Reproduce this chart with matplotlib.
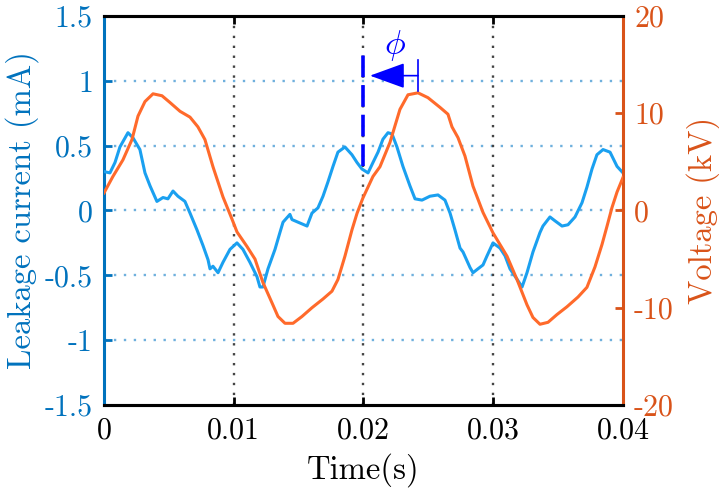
import numpy as np
import matplotlib
matplotlib.use("Agg")
import matplotlib.pyplot as plt

plt.rcParams['font.family'] = ['cmr10', 'DejaVu Serif']
plt.rcParams['mathtext.fontset'] = 'cm'
plt.rcParams['axes.unicode_minus'] = False

# leakage current (mA), time in ms
t_i = [0, 0.46, 0.85, 1.23, 1.85, 2.24, 2.77, 3.16, 3.55, 4.08, 4.55, 4.93, 5.32, 5.70, 6.24,
       6.63, 7.17, 7.63, 8.02, 8.17, 8.40, 8.79, 9.17, 9.71, 10.25, 10.71, 11.25, 11.79, 12.02,
       12.25, 12.64, 13.18, 13.56, 13.80, 14.33, 14.49, 14.95, 15.65, 16.03, 16.49, 16.88, 17.26,
       17.65, 18.03, 18.57, 19.11, 19.50, 19.88, 20.35, 20.73, 21.12, 21.50, 21.89, 22.20, 22.58,
       23.04, 23.58, 23.97, 24.51, 25.12, 25.74, 26.28, 26.67, 27.05, 27.44, 27.67, 28.21, 28.44,
       28.82, 29.21, 29.52, 29.98, 30.52, 30.91, 31.29, 31.83, 32.22, 32.60, 33.06, 33.60, 33.83,
       34.37, 34.76, 35.30, 35.76, 36.30, 36.84, 37.22, 37.61, 37.99, 38.46, 39.00, 39.54, 40.00]
current = [0.30, 0.29, 0.37, 0.49, 0.60, 0.56, 0.47, 0.29, 0.19, 0.07, 0.10, 0.09, 0.15, 0.11, 0.07,
           -0.02, -0.15, -0.27, -0.38, -0.45, -0.43, -0.48, -0.40, -0.30, -0.25, -0.30, -0.40, -0.51, -0.59,
           -0.59, -0.45, -0.30, -0.17, -0.09, -0.03, -0.07, -0.09, -0.12, -0.02, 0.02, 0.11, 0.22,
           0.34, 0.45, 0.49, 0.43, 0.37, 0.32, 0.29, 0.37, 0.45, 0.55, 0.60, 0.59, 0.49,
           0.34, 0.19, 0.09, 0.08, 0.11, 0.12, 0.08, -0.02, -0.15, -0.29, -0.32, -0.44, -0.48,
           -0.45, -0.42, -0.35, -0.25, -0.29, -0.35, -0.45, -0.53, -0.59, -0.48, -0.32, -0.17, -0.12,
           -0.05, -0.08, -0.12, -0.11, -0.05, 0.06, 0.18, 0.32, 0.43, 0.47, 0.45, 0.34, 0.29]

# voltage (kV), time in ms
t_v = [0, 0.69, 1.46, 2.16, 2.62, 3.16, 3.78, 4.47, 5.09, 5.86, 6.63, 7.24, 7.78, 8.40, 9.17,
       9.87, 10.25, 11.02, 11.64, 12.25, 12.95, 13.41, 13.95, 14.57, 15.26, 16.03, 16.88, 17.57,
       18.03, 18.57, 19.11, 19.50, 19.96, 20.73, 21.27, 22.04, 22.81, 23.43, 24.20, 24.97, 25.90,
       26.51, 26.82, 27.28, 27.82, 28.44, 29.21, 29.98, 31.06, 31.83, 32.60, 33.06, 33.60, 34.22,
       34.91, 35.68, 36.53, 37.22, 37.84, 38.38, 38.77, 39.15, 39.54, 40.00]
voltage = [1.8, 3.5, 5.2, 7.3, 9.7, 11.2, 12.0, 11.8, 11.1, 10.2, 9.6, 8.6, 7.3, 4.5, 1.4,
           -0.9, -2.2, -3.7, -5.0, -7.4, -9.5, -10.9, -11.6, -11.6, -10.9, -10.0, -9.1, -8.3,
           -7.1, -4.7, -2.0, -0.3, 1.3, 3.5, 4.5, 7.0, 10.4, 11.9, 12.1, 11.6, 10.6,
           9.9, 8.6, 7.5, 5.6, 2.5, -0.2, -2.3, -4.7, -7.1, -9.7, -11.0, -11.7, -11.5,
           -10.7, -9.9, -8.9, -7.9, -5.8, -3.5, -1.6, 0.3, 1.9, 3.4]

xticks = [0, 0.01, 0.02, 0.03, 0.04]
xlabels = ['0', '0.01', '0.02', '0.03', '0.04']
yticks_l = [-1.5, -1, -0.5, 0, 0.5, 1, 1.5]
ylabels_l = ['-1.5', '-1', '-0.5', '0', '0.5', '1', '1.5']
yticks_r = [-20, -10, 0, 10, 20]
ylabels_r = ['-20', '-10', '0', '10', '20']

# phase shift annotation (s, mA)
phi_ref_t = 0.020
phi_ref_y = [0.34, 1.23]
phi_peak_t = 0.0242
phi_peak_y = [0.92, 1.16]
arrow_tip_t = 0.0205
arrow_y = 1.04

blue_ax = '#0072BD'
orange_ax = '#D95319'

fig = plt.figure(figsize=(7.19, 4.91), dpi=100)
ax = fig.add_axes([0.1446, 0.1752, 0.7219, 0.7922])
ax2 = ax.twinx()

t_i = np.array(t_i) * 1e-3
t_v = np.array(t_v) * 1e-3

ax.plot(t_i, current, color='#1AA0F0', lw=2.2, zorder=3)
ax2.plot(t_v, voltage, color='#FF6A2B', lw=2.2, zorder=3)

ax.set_xlim(0, 0.04)
ax.set_ylim(-1.5, 1.5)
ax2.set_ylim(-20, 20)

# grids
for yy in [-1, -0.5, 0, 0.5, 1]:
    ax.axhline(yy, color='#6FB0DD', lw=1.7, ls=(0, (1.0, 3.2)), zorder=1)
for xx in [0.01, 0.02, 0.03]:
    ax.axvline(xx, color='#444444', lw=1.7, ls=(0, (1.0, 3.2)), zorder=1)

ax.set_xticks(xticks)
ax.set_xticklabels(xlabels)
ax.set_yticks(yticks_l)
ax.set_yticklabels(ylabels_l)
ax2.set_yticks(yticks_r)
ax2.set_yticklabels(ylabels_r)

ax.tick_params(axis='x', direction='in', length=6, width=2, top=True, labelsize=21.5, pad=9, colors='black')
ax.tick_params(axis='y', direction='in', length=6, width=2, labelsize=21.5, pad=8, colors=blue_ax)
ax2.tick_params(axis='y', direction='in', length=6, width=2, labelsize=21.5, pad=8, colors=orange_ax)

for s in ['top', 'bottom']:
    ax.spines[s].set_linewidth(2.2)
    ax2.spines[s].set_linewidth(2.2)
ax.spines['left'].set_color(blue_ax)
ax.spines['left'].set_linewidth(2.2)
ax2.spines['left'].set_visible(False)
ax2.spines['right'].set_color(orange_ax)
ax2.spines['right'].set_linewidth(2.2)
ax.spines['right'].set_visible(False)

ax.set_xlabel('Time(s)', fontsize=23.5, labelpad=6)
ax.set_ylabel('Leakage current (mA)', fontsize=23.5, color=blue_ax, labelpad=4)
ax2.set_ylabel('Voltage (kV)', fontsize=23.5, color=orange_ax, labelpad=9)

# phase annotation
tr = ax.transData
ax2.plot([phi_ref_t, phi_ref_t], phi_ref_y, color='#0000FF', lw=2.6, ls=(0, (6, 2.2)), transform=tr, zorder=5)
ax2.plot([phi_peak_t, phi_peak_t], phi_peak_y, color='#0000FF', lw=1.2, transform=tr, zorder=5)
ax2.annotate('', xy=(arrow_tip_t, arrow_y), xytext=(phi_peak_t, arrow_y),
             xycoords=tr, textcoords=tr,
             arrowprops=dict(arrowstyle='-|>,head_length=2.2,head_width=0.8', color='#0000FF', lw=1.2,
                             shrinkA=0, shrinkB=0), zorder=6)
ax2.text(0.0224, 1.27, r'$\phi$', transform=tr, color='#0000FF', fontsize=25, ha='center', va='center', zorder=6)

fig.savefig('out.png', dpi=100)
